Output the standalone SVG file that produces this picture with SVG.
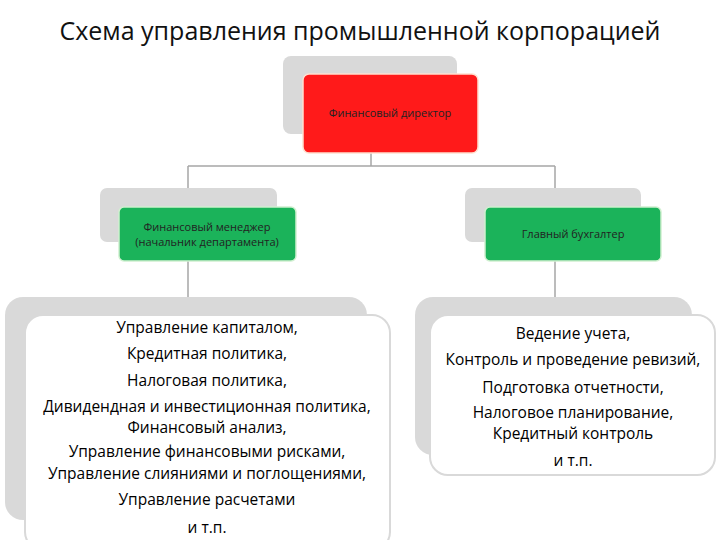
<svg xmlns="http://www.w3.org/2000/svg" width="720" height="540" viewBox="0 0 720 540">
<style>
.sh{fill:#d9d9d9}
.t{font-family:"Open Sans","DejaVu Sans",sans-serif;text-anchor:middle}
.s{font-size:11px;fill:#222}
.b{font-size:15.5px;fill:#000}
.w{fill:#fff;stroke:#d9d9d9;stroke-width:2}
</style>
<rect width="720" height="540" fill="#fff"/>
<text class="t" x="360" y="40" font-size="25" fill="#111">Схема управления промышленной корпорацией</text>
<g id="connectors" stroke="#a6a6a6" stroke-width="1.5" fill="none">
<path d="M371 153V166M188 166H555M188 166V188M555 166V188M188 261V297M555 261V297"/>
</g>
<g id="fd">
<rect class="sh" x="283" y="56" width="174" height="78" rx="8"/>
<rect x="303" y="74" width="175" height="79" rx="6" fill="#ff1a1a" stroke="#ffe0d0" stroke-width="1.5"/>
<text class="t s" x="390" y="117">Финансовый директор</text>
</g>
<g id="fm">
<rect class="sh" x="100" y="188" width="177" height="54" rx="7"/>
<rect x="119" y="207" width="177" height="54" rx="5" fill="#1bb35a" stroke="#d0f0d0" stroke-width="1.5"/>
<text class="t s" x="207" y="231">Финансовый менеджер</text>
<text class="t s" x="207" y="246">(начальник департамента)</text>
</g>
<g id="gb">
<rect class="sh" x="465" y="188" width="176" height="54" rx="7"/>
<rect x="485" y="207" width="176" height="54" rx="5" fill="#1bb35a" stroke="#d0f0d0" stroke-width="1.5"/>
<text class="t s" x="573" y="238">Главный бухгалтер</text>
</g>
<g id="left">
<rect class="sh" x="5" y="297" width="362" height="223" rx="18"/>
<rect class="w" x="25" y="315" width="365" height="235" rx="18"/>
<g class="t b">
<text x="207" y="333">Управление капиталом,</text>
<text x="207" y="359">Кредитная политика,</text>
<text x="207" y="386">Налоговая политика,</text>
<text x="207" y="412">Дивидендная и инвестиционная политика,</text>
<text x="207" y="433">Финансовый анализ,</text>
<text x="207" y="457">Управление финансовыми рисками,</text>
<text x="207" y="479">Управление слияниями и поглощениями,</text>
<text x="207" y="505">Управление расчетами</text>
<text x="207" y="533">и т.п.</text>
</g>
</g>
<g id="right">
<rect class="sh" x="415" y="297" width="277" height="158" rx="18"/>
<rect class="w" x="430" y="315" width="285" height="160" rx="18"/>
<g class="t b">
<text x="573" y="339">Ведение учета,</text>
<text x="573" y="365">Контроль и проведение ревизий,</text>
<text x="573" y="393">Подготовка отчетности,</text>
<text x="573" y="418">Налоговое планирование,</text>
<text x="573" y="439">Кредитный контроль</text>
<text x="573" y="466">и т.п.</text>
</g>
</g>
</svg>
